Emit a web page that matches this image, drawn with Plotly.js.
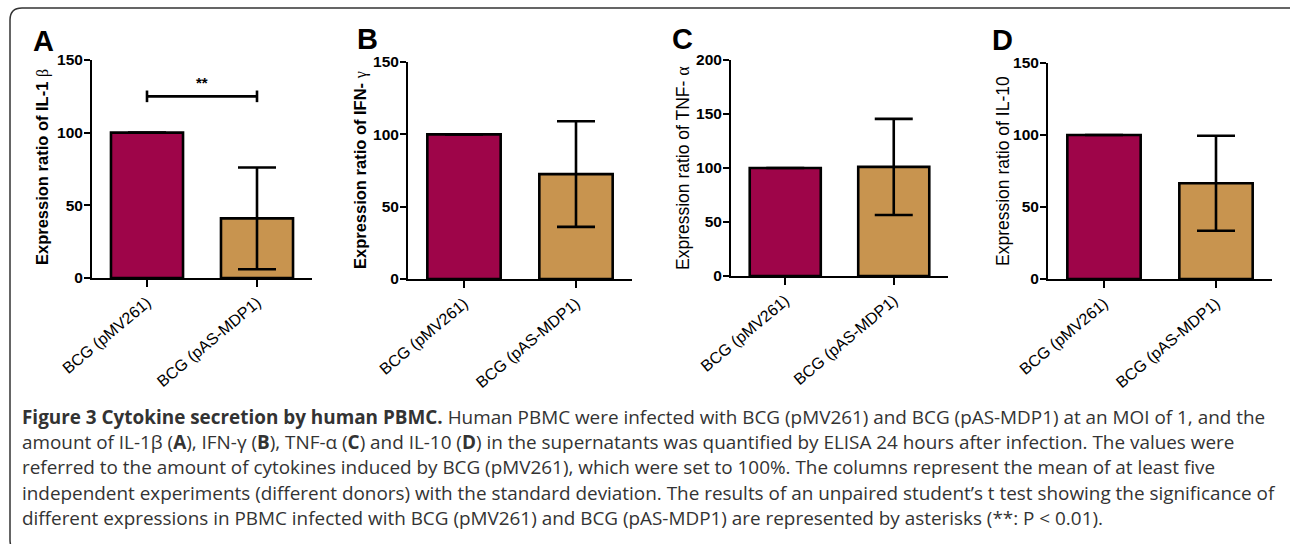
<!DOCTYPE html>
<html>
<head>
<meta charset="utf-8">
<script src="https://cdn.plot.ly/plotly-3.0.1.min.js"></script>
<style>
html,body{margin:0;padding:0;background:#fff;}
#chart{width:1290px;height:544px;}
</style>
</head>
<body>
<div id="chart"></div>
<script>
// ---------------- data ----------------
const categories = ['BCG (pMV261)', 'BCG (pAS-MDP1)'];
const il1bMean = [100, 41];
const il1bSD   = [0, 35];
const ifngMean = [100, 72.5];
const ifngSD   = [0, 36.5];
const tnfaMean = [100, 101];
const tnfaSD   = [0, 44.5];
const il10Mean = [100, 66.5];
const il10SD   = [0, 33];
const sigY = [125, 125];
const sigBracketHalf = 4;
const sigLabel = '**';
const panelLetters = ['A', 'B', 'C', 'D'];
const yTitles = [
  'Expression ratio of IL-1 <span style="font-family:Liberation Serif;font-weight:normal;font-size:16px">β</span>',
  'Expression ratio of IFN- <span style="font-family:Liberation Serif;font-weight:normal;font-size:16px">γ</span>',
  'Expression ratio of TNF- <span style="font-family:Liberation Serif;font-weight:normal;font-size:18px">α</span>',
  'Expression ratio of IL-10'
];
const yRanges = [[0, 150], [0, 150], [0, 200], [0, 150]];
const captionLines = [
  '<b>Figure 3 Cytokine secretion by human PBMC.</b> Human PBMC were infected with BCG (pMV261) and BCG (pAS-MDP1) at an MOI of 1, and the',
  'amount of IL-1β (<b>A</b>), IFN-γ (<b>B</b>), TNF-α (<b>C</b>) and IL-10 (<b>D</b>) in the supernatants was quantified by ELISA 24 hours after infection. The values were',
  'referred to the amount of cytokines induced by BCG (pMV261), which were set to 100%. The columns represent the mean of at least five',
  'independent experiments (different donors) with the standard deviation. The results of an unpaired student’s t test showing the significance of',
  'different expressions in PBMC infected with BCG (pMV261) and BCG (pAS-MDP1) are represented by asterisks (**: P &lt; 0.01).'
];

// ---------------- layout geometry (pixels) ----------------
const W = 1290, H = 544;
const px = v => v / W;
const py = v => 1 - v / H;
const panels = [
  {x0: 92,   x1: 312,  yTop: 60, yBot: 278, letter: [43, 41],   titleX: 42,   titleY: 167, titleBold: true},
  {x0: 408,  x1: 632,  yTop: 62, yBot: 279, letter: [367, 39],  titleX: 360,  titleY: 170, titleBold: true},
  {x0: 731,  x1: 948,  yTop: 60, yBot: 276, letter: [682, 39],  titleX: 683,  titleY: 168, titleBold: false},
  {x0: 1048, x1: 1272, yTop: 63, yBot: 279, letter: [1002, 40], titleX: 1003, titleY: 171, titleBold: false}
];
const means = [il1bMean, ifngMean, tnfaMean, il10Mean];
const sds = [il1bSD, ifngSD, tnfaSD, il10SD];
const barColors = ['#9e0549', '#c8944f'];
const FONT = 'Liberation Sans, Arial, sans-serif';

const data = [];
const layout = {
  width: W, height: H,
  margin: {l: 0, r: 0, t: 0, b: 0},
  paper_bgcolor: '#ffffff',
  plot_bgcolor: 'rgba(0,0,0,0)',
  showlegend: false,
  font: {family: FONT, color: '#000'},
  annotations: [],
  shapes: []
};

panels.forEach((p, i) => {
  const n = i === 0 ? '' : String(i + 1);
  const xa = 'x' + n, ya = 'y' + n;
  data.push({
    type: 'bar', x: categories, y: means[i], xaxis: xa, yaxis: ya,
    width: 0.655,
    marker: {color: barColors, line: {color: '#000', width: 2.6}},
    error_y: {type: 'data', array: sds[i], visible: true, color: '#000', thickness: 2.6, width: 19},
    hoverinfo: 'skip'
  });
  layout['xaxis' + n] = {
    domain: [px(p.x0), px(p.x1)], anchor: ya, type: 'category', range: [-0.5, 1.5],
    showline: true, linecolor: '#000', linewidth: 2, ticks: 'outside', ticklen: 7, tickwidth: 2, tickcolor: '#000',
    tickangle: -40, tickfont: {family: FONT, size: 16, color: '#000'},
    showgrid: false, zeroline: false, fixedrange: true
  };
  layout['yaxis' + n] = {
    domain: [py(p.yBot), py(p.yTop)], anchor: xa, range: yRanges[i], dtick: 50, tick0: 0,
    showline: true, linecolor: '#000', linewidth: 2, ticks: 'outside', ticklen: 6, tickwidth: 2, tickcolor: '#000',
    ticklabelstandoff: -2,
    tickfont: {family: FONT, size: 15.5, color: '#000', weight: 'bold'},
    showgrid: false, zeroline: false, fixedrange: true
  };
  // y-axis title
  layout.annotations.push({
    xref: 'paper', yref: 'paper', x: px(p.titleX), y: py(p.titleY),
    xanchor: 'center', yanchor: 'middle', textangle: -90, showarrow: false,
    text: p.titleBold ? '<b>' + yTitles[i] + '</b>' : yTitles[i],
    font: {family: FONT, size: p.titleBold ? 16.5 : 17.5, color: '#000'}
  });
  layout.annotations.push({
    xref: 'paper', yref: 'paper', x: px(p.letter[0]), y: py(p.letter[1]),
    xanchor: 'center', yanchor: 'middle', showarrow: false,
    text: '<b>' + panelLetters[i] + '</b>', font: {family: FONT, size: 29, color: '#000'}
  });
});

// significance bracket (panel A)
data.push({
  type: 'scatter', mode: 'lines', x: categories, y: sigY, xaxis: 'x', yaxis: 'y',
  line: {color: '#000', width: 2.6},
  error_y: {type: 'constant', value: sigBracketHalf, visible: true, width: 0, thickness: 2.6, color: '#000'},
  hoverinfo: 'skip', cliponaxis: false
});
layout.annotations.push({
  xref: 'x', yref: 'y', x: 0.5, y: sigY[0], xanchor: 'center', yanchor: 'bottom', yshift: 3,
  showarrow: false, text: '<b>' + sigLabel + '</b>', font: {family: FONT, size: 15, color: '#000'}
});

// caption
const capY = [417, 442, 467, 493, 518];
captionLines.forEach((t, i) => {
  layout.annotations.push({
    xref: 'paper', yref: 'paper', x: px(20), y: py(capY[i]), xanchor: 'left', yanchor: 'middle',
    showarrow: false, text: t, align: 'left',
    font: {family: 'Open Sans', size: 18.9, color: '#333'}
  });
});

// rounded frame (right and bottom edges run off the picture)
const fx0 = px(10), fx1 = px(1302), fy0 = py(8), fy1 = py(552);
const rx = 12 / W, ry = 12 / H;
layout.shapes.push({
  type: 'path', xref: 'paper', yref: 'paper',
  path: `M ${fx0 + rx} ${fy0} L ${fx1 - rx} ${fy0} Q ${fx1} ${fy0} ${fx1} ${fy0 - ry} L ${fx1} ${fy1 + ry} Q ${fx1} ${fy1} ${fx1 - rx} ${fy1} L ${fx0 + rx} ${fy1} Q ${fx0} ${fy1} ${fx0} ${fy1 + ry} L ${fx0} ${fy0 - ry} Q ${fx0} ${fy0} ${fx0 + rx} ${fy0} Z`,
  line: {color: '#333', width: 1.5}
});

Plotly.newPlot('chart', data, layout, {displayModeBar: false, staticPlot: true});
</script>
</body>
</html>
